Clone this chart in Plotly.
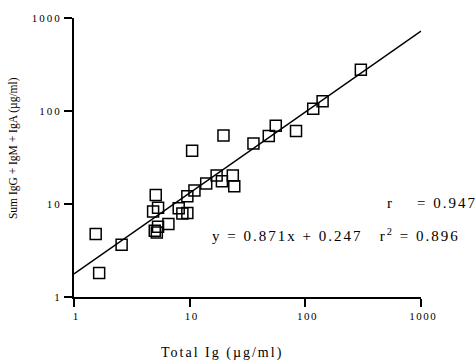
import plotly.graph_objects as go

total_ig = [1.54, 1.65, 2.58, 5.09, 4.83, 5.33, 4.99, 5.33, 5.2, 6.55, 8.04, 8.65,
            9.55, 9.55, 11.0, 10.5, 13.9, 17.1, 19.0, 23.6, 24.3, 19.6, 35.6, 48.3,
            55.5, 83.1, 117, 141, 302]
sum_ig = [4.76, 1.81, 3.64, 12.5, 8.28, 9.14, 5.16, 5.69, 4.95, 6.08, 9.0, 7.89,
          8.02, 12.1, 14.0, 37.3, 16.6, 20.3, 17.6, 20.3, 15.5, 54.6, 44.6, 53.8,
          69.3, 60.8, 106, 127, 278]
fit_x = [1, 1000]
fit_y = [1.77, 724]
tick_vals = [1, 10, 100, 1000]
tick_text = ["1", "10", "100", "1000"]

SERIF = "Liberation Serif, Times New Roman, serif"

def spaced(s, px=2):
    return f"<span style='letter-spacing:{px}px'>{s}</span>"

fig = go.Figure()
fig.add_trace(go.Scatter(x=fit_x, y=fit_y, mode="lines",
                         line=dict(color="black", width=1.5), showlegend=False))
fig.add_trace(go.Scatter(x=total_ig, y=sum_ig, mode="markers",
                         marker=dict(symbol="square-open", size=11,
                                     color="black", line=dict(width=1.5, color="black")),
                         showlegend=False))

axis_common = dict(type="log", range=[0, 3], showline=True, linewidth=2,
                   linecolor="black", ticks="outside", ticklen=8, tickwidth=1.5,
                   tickcolor="black", showgrid=False, zeroline=False,
                   tickvals=tick_vals,
                   tickfont=dict(family=SERIF, size=11, color="black"))

fig.update_layout(
    width=476, height=364,
    margin=dict(l=74, r=55, t=16, b=67),
    paper_bgcolor="white", plot_bgcolor="white",
    xaxis=dict(**axis_common, ticktext=[spaced(" " + t, 1.5) for t in tick_text]),
    yaxis=dict(**axis_common, ticktext=[spaced(t, 2) for t in tick_text]),
    font=dict(family=SERIF, color="black"),
    annotations=[
        dict(text=spaced("Total Ig (µg/ml)", 2), showarrow=False,
             font=dict(size=14, family=SERIF)),
        dict(text="Sum IgG + IgM + IgA (µg/ml)", textangle=-90, showarrow=False,
             font=dict(size=11.5, family=SERIF)),
        dict(text=spaced("r    = 0.947", 2), showarrow=False,
             font=dict(size=15, family=SERIF)),
        dict(text=spaced("y = 0.871x + 0.247   r<sup>2</sup> = 0.896", 2), showarrow=False,
             font=dict(size=15, family=SERIF)),
    ],
)

# position annotations in paper coordinates derived from pixel layout
W, H = 476, 364
l, r, t, b = 74, 55, 16, 67
pw, ph = W - l - r, H - t - b

def px_to_paper(px, py):
    return (px - l) / pw, 1 - (py - t) / ph

anns = list(fig.layout.annotations)
positions = [(222, 353, "center"), (13, 147, "center"), (385, 202, "left"), (210, 235, "left")]
for a, (px, py, xa) in zip(anns, positions):
    xp, yp = px_to_paper(px, py)
    a.update(x=xp, y=yp, xref="paper", yref="paper", xanchor=xa, yanchor="middle")
fig.layout.annotations = anns

fig.write_html("out.html")
